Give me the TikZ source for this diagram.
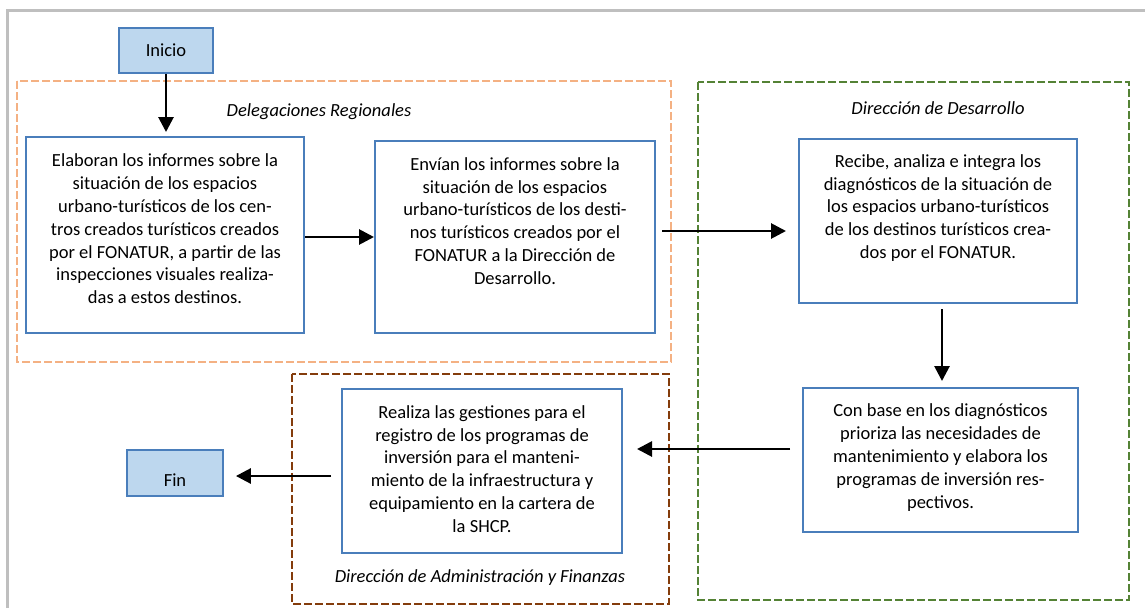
\documentclass[tikz,border=0pt]{standalone}
\usepackage{fontspec}
\setmainfont{Carlito}
\usetikzlibrary{arrows.meta}
\definecolor{boxblue}{RGB}{74,126,187}
\definecolor{fillblue}{RGB}{189,215,238}
\definecolor{dorange}{RGB}{244,177,131}
\definecolor{dgreen}{RGB}{84,130,53}
\definecolor{dbrown}{RGB}{132,60,12}
\definecolor{framegray}{RGB}{191,191,191}
\tikzset{
  stepbox/.style={draw=boxblue, line width=2pt, fill=white, inner sep=0pt},
  endbox/.style={draw=boxblue, line width=1.8pt, fill=fillblue, inner sep=0pt, minimum width=94pt, minimum height=45pt},
  txt/.style={align=center, inner sep=0pt, font=\fontsize{18.5}{22.8}\selectfont},
  lbl/.style={inner sep=0pt, font=\fontsize{18.5}{22.8}\selectfont\itshape},
  region/.style={line width=2.7pt, dash pattern=on 8pt off 3pt},
  arr/.style={line width=2.8pt, -{Triangle[length=15pt,width=15pt]}},
}
\begin{document}
\begin{tikzpicture}[x=1pt,y=-1pt]
\useasboundingbox (0,0) rectangle (1145,608);
% outer frame (only top and left edges visible)
\draw[framegray, line width=2.5pt] (7.5,608) -- (7.5,10.5) -- (1145,10.5);
% regions
\draw[region, dorange] (17,81) rectangle (671,362);
\draw[region, dgreen] (698,82) rectangle (1129,600);
\draw[region, dbrown] (292,374) rectangle (669,604);
\node[lbl] (lreg) at (319,112) {Delegaciones Regionales};
\node[lbl] (ldes) at (938,108) {Dirección de Desarrollo};
\node[lbl] (ladm) at (480,578) {Dirección de Administración y Finanzas};
% boxes
\node[endbox, font=\fontsize{18.5}{22.8}\selectfont] (inicio) at (166,50.5) {Inicio};
\node[endbox, minimum width=96pt, minimum height=46pt, label={[txt, yshift=-7pt]center:Fin}] (fin) at (175,473) {};
\node[stepbox, minimum width=278pt, minimum height=196pt] (b1) at (165,235) {};
\node[stepbox, minimum width=280pt, minimum height=192pt] (b2) at (515,237) {};
\node[stepbox, minimum width=278pt, minimum height=164pt] (b3) at (938,221) {};
\node[stepbox, minimum width=275pt, minimum height=144pt] (b4) at (940.5,460) {};
\node[stepbox, minimum width=280pt, minimum height=164pt] (b5) at (482,471) {};
\node[txt] (t1) at (165,229) {Elaboran los informes sobre la\\situación de los espacios\\urbano-turísticos de los cen-\\tros creados turísticos creados\\por el FONATUR, a partir de las\\inspecciones visuales realiza-\\das a estos destinos.};
\node[txt] (t2) at (515,221) {Envían los informes sobre la\\situación de los espacios\\urbano-turísticos de los desti-\\nos turísticos creados por el\\FONATUR a la Dirección de\\Desarrollo.};
\node[txt] (t3) at (938,208) {Recibe, analiza e integra los\\diagnósticos de la situación de\\los espacios urbano-turísticos\\de los destinos turísticos crea-\\dos por el FONATUR.};
\node[txt] (t4) at (940.5,457.5) {Con base en los diagnósticos\\prioriza las necesidades de\\mantenimiento y elabora los\\programas de inversión res-\\pectivos.};
\node[txt] (t5) at (482,469) {Realiza las gestiones para el\\registro de los programas de\\inversión para el manteni-\\miento de la infraestructura y\\equipamiento en la cartera de\\la SHCP.};
% connectors
\draw[arr, shorten >=4pt] (inicio.south) -- (inicio.south |- b1.north);
\draw[arr] (b1.east |- 0,237) -- (b2.west |- 0,237);
\draw[arr, shorten <=6pt, shorten >=12pt] (b2.east |- 0,231) -- (b3.west |- 0,231);
\draw[arr, shorten <=5pt, shorten >=6pt] (b3.south -| 942,0) -- (b4.north -| 942,0);
\draw[arr, shorten <=12pt, shorten >=14pt] (b4.west |- 0,449) -- (b5.east |- 0,449);
\draw[arr, shorten <=10pt, shorten >=12pt] (b5.west |- 0,476) -- (fin.east |- 0,476);
\end{tikzpicture}
\end{document}
